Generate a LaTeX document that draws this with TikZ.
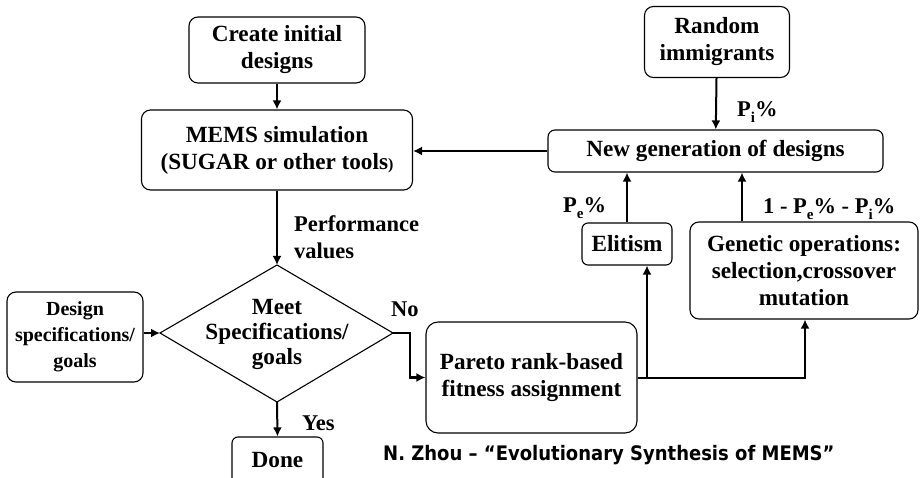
\documentclass[tikz,border=0pt]{standalone}
\usepackage{fontspec}
\setmainfont{Liberation Serif}
\newfontfamily\footfont[FakeStretch=0.9]{DejaVu Sans}
\usetikzlibrary{arrows.meta}
\newcommand{\lowsub}[1]{\raisebox{-6pt}{\fontsize{15}{15}\selectfont #1}}
\tikzset{
  bx/.style={draw, line width=1.1pt, rounded corners=9pt, align=center, inner sep=0pt,
    font=\bfseries\fontsize{23.2}{27}\selectfont},
  arr/.style={line width=2pt, -{Latex[length=9pt,width=9pt]}},
  ln/.style={line width=2pt},
  lbl/.style={font=\bfseries\fontsize{22.5}{27}\selectfont, inner sep=0pt, align=left},
}
\begin{document}
\begin{tikzpicture}[x=1pt,y=-1pt]
\useasboundingbox[fill=white] (0,0) rectangle (924,478);
\clip (0,0) rectangle (924,478);
% boxes
\node[bx, minimum width=176, minimum height=66] (create) at (277,50) {Create initial\\designs};
\node[bx, minimum width=271, minimum height=80] (mems) at (277,150) {MEMS simulation\\(SUGAR or other tools{\fontsize{16}{20}\selectfont)}};
\node[bx, minimum width=145, minimum height=71] (rand) at (717,42) {Random\\immigrants};
\node[bx, minimum width=335, minimum height=42, rounded corners=7pt] (gen) at (715.5,151) {New generation of designs};
\node[bx, minimum width=90, minimum height=42, rounded corners=6pt] (elit) at (627,244) {Elitism};
\node[bx, minimum width=228, minimum height=97] (genop) at (804,270.5) {Genetic operations:\\selection,crossover\\mutation};
\node[bx, minimum width=211, minimum height=111, rounded corners=12pt] (pareto) at (531.5,377.5) {Pareto rank-based\\fitness assignment};
\node[bx, minimum width=136, minimum height=90, font=\bfseries\fontsize{20}{26}\selectfont] (spec) at (75,337) {Design\\specifications/\\goals};
\node[bx, minimum width=91, minimum height=60, rounded corners=6pt, text depth=0pt] (done) at (277.5,467) {};
\node[font=\bfseries\fontsize{23.2}{27}\selectfont, inner sep=0pt] (donet) at (277.5,460) {Done};
% diamond
\coordinate (dT) at (277,265);
\coordinate (dL) at (160,333);
\coordinate (dR) at (393,333);
\coordinate (dB) at (277,402);
\draw[line width=1.1pt] (dT) -- (dR) -- (dB) -- (dL) -- cycle;
\node[align=center, inner sep=0pt, font=\bfseries\fontsize{23.2}{25}\selectfont] (meet) at (277,334) {Meet\\Specifications/\\goals};
% connectors
\draw[arr] (create) -- (mems);
\draw[arr] (mems.south) -- (dT);
\draw[arr] (gen.west) -- (mems.east |- gen.west);
\draw[arr] (rand) -- (gen);
\draw[arr] (elit.north) -- (elit.north |- gen.south);
\coordinate (gx) at (742,0);
\draw[arr] (genop.north -| gx) -- (gen.south -| gx);
\draw[arr] (spec.east |- dL) -- (dL);
\coordinate (nx) at (410,0);
\draw[arr] (dR) -- (dR -| nx) -- (nx |- pareto.west) -- (pareto.west);
\draw[arr] (dB) -- (done.north);
\coordinate (j1) at (647,378);
\coordinate (gb) at (805,0);
\draw[ln] (pareto.east |- j1) -- (j1);
\draw[arr] (j1) -- (j1 |- elit.south);
\draw[arr] (j1) -- (gb |- j1) -- (gb |- genop.south);
% labels
\node[lbl, anchor=west] (perf) at (294,237) {Performance\\values};
\node[lbl, anchor=base west] (pi) at (737,117) {P\lowsub{i}\%};
\node[lbl, anchor=base west] (pe) at (563,213) {P\lowsub{e}\%};
\node[lbl, anchor=base west] (rest) at (763,214) {1 - P\lowsub{e}\% - P\lowsub{i}\%};
\node[lbl, anchor=base west] (no) at (391,317) {No};
\node[lbl, anchor=base west] (yes) at (302,430) {Yes};
\node[font=\footfont\bfseries\fontsize{20}{24}\selectfont, inner sep=0pt, anchor=west] (foot) at (383,455) {N. Zhou – “Evolutionary Synthesis of MEMS”};
\end{tikzpicture}
\end{document}
